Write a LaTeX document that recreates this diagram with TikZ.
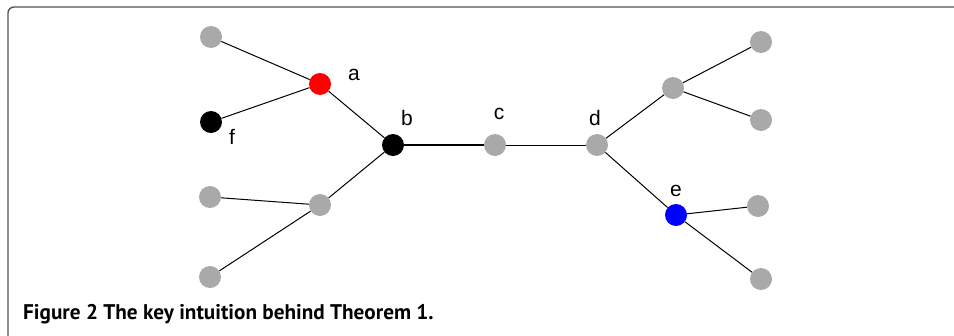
\documentclass[tikz,border=0pt]{standalone}
\usepackage{fontspec}
\setmainfont{Liberation Sans}
\newfontfamily\capfont{PT Sans}
\definecolor{nodegray}{HTML}{A9A9A9}
\definecolor{framegray}{HTML}{555555}
\tikzset{
  vtx/.style={circle, minimum size=22pt, inner sep=0pt, fill=#1},
  vtx/.default=nodegray,
  edge/.style={draw=black, line width=1pt},
  lbl/.style={font=\fontsize{21}{21}\selectfont, inner sep=0pt, anchor=center},
}
\begin{document}
\begin{tikzpicture}[x=1pt,y=-1pt]
\path[use as bounding box] (0,0) rectangle (954,335);
\draw[framegray, line width=1.4pt, rounded corners=6pt] (960,7) -- (8,7) -- (8,340);
% nodes
\node[vtx] (g1) at (211,37) {};
\node[vtx=red] (a) at (320,84) {};
\node[vtx=black] (f) at (211,122) {};
\node[vtx=black] (b) at (393,145) {};
\node[vtx] (g2) at (210,197) {};
\node[vtx] (g3) at (320,205) {};
\node[vtx] (g4) at (210,277) {};
\node[vtx] (c) at (495,145) {};
\node[vtx] (d) at (597,145) {};
\node[vtx] (g5) at (673,88) {};
\node[vtx] (g6) at (761,42) {};
\node[vtx] (g7) at (761,120) {};
\node[vtx=blue] (e) at (676,215) {};
\node[vtx] (g8) at (758,206) {};
\node[vtx] (g9) at (761,279) {};
% labels
\node[lbl] (la) at (354,75) {a};
\node[lbl] (lb) at (407,118) {b};
\node[lbl] (lc) at (499,114) {c};
\node[lbl] (ld) at (595,118) {d};
\node[lbl] (le) at (676,191) {e};
\node[lbl] (lf) at (232,137) {f};
% edges
\draw[edge] (g1) -- (a);
\draw[edge] (f) -- (a);
\draw[edge] (a) -- (b);
\draw[black, line width=2pt] (b) -- (c);
\draw[edge] (g3) -- (b);
\draw[edge] (g2) -- (g3);
\draw[edge] (g4) -- (g3);
\draw[edge] (c) -- (d);
\draw[edge] (d) -- (g5);
\draw[edge] (g5) -- (g6);
\draw[edge] (g5) -- (g7);
\draw[edge] (d) -- (e);
\draw[edge] (e) -- (g8);
\draw[edge] (e) -- (g9);
% caption
\node[anchor=base west, inner sep=0pt, font=\capfont\bfseries\fontsize{21.2}{21.2}\selectfont] (cap) at (23,319) {Figure 2 The key intuition behind Theorem 1.};
\end{tikzpicture}
\end{document}
